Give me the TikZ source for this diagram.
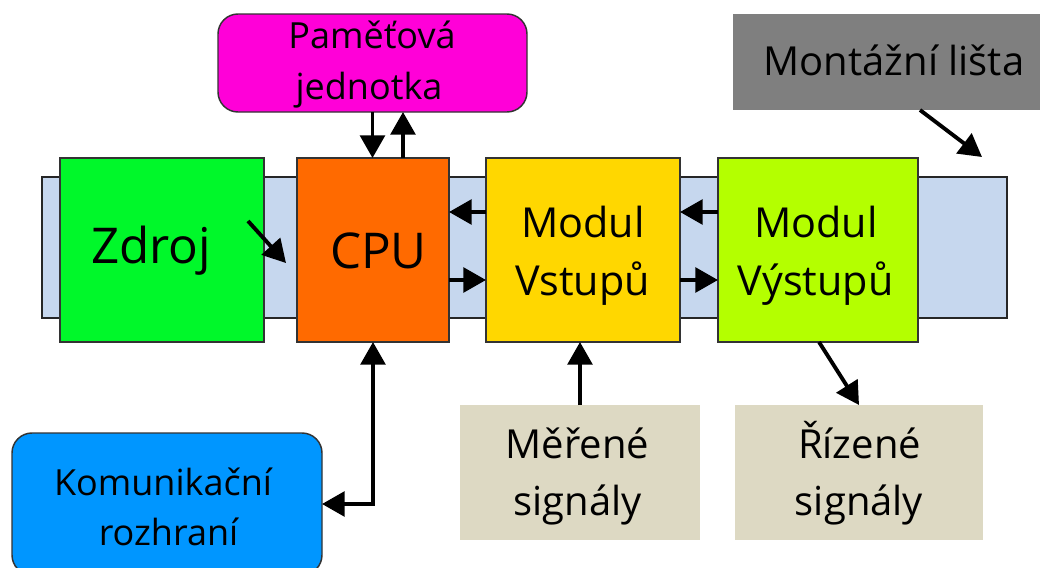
\documentclass[tikz,border=0pt]{standalone}
\usepackage{fontspec}
\setmainfont{Open Sans}
\usetikzlibrary{arrows.meta,calc}

\definecolor{railblue}{HTML}{C6D7EE}
\definecolor{railedge}{HTML}{262626}
\definecolor{edge}{HTML}{333333}
\definecolor{psu}{HTML}{00F82A}
\definecolor{cpucol}{HTML}{FF6A00}
\definecolor{inmod}{HTML}{FFD700}
\definecolor{outmod}{HTML}{B4FF00}
\definecolor{memcol}{HTML}{FF00D8}
\definecolor{railgray}{HTML}{7F7F7F}
\definecolor{commcol}{HTML}{0096FF}
\definecolor{sigcol}{HTML}{DDD9C3}

\begin{document}
\begin{tikzpicture}[x=0.75pt,y=-0.75pt,
  blk/.style={draw=edge,line width=1.1pt,inner sep=0pt,outer sep=0pt},
  rbox/.style={blk,rounded corners=15pt},
  plain/.style={inner sep=0pt,outer sep=0pt},
  txt/.style={anchor=base,inner sep=0pt,text=black},
  huge/.style={font=\fontsize{37}{44}\selectfont},
  big/.style={font=\fontsize{31}{37}\selectfont},
  mid/.style={font=\fontsize{30}{36}\selectfont},
  small/.style={font=\fontsize{27}{32}\selectfont},
  tip/.style={Triangle[length=17pt,width=18.5pt]},
  arr/.style={draw=black,line width=2.9pt,-{Triangle[length=17pt,width=18.5pt]}},
  darr/.style={draw=black,line width=2.9pt,{Triangle[length=17pt,width=18.5pt]}-{Triangle[length=17pt,width=18.5pt]}},
]
\useasboundingbox (0,0) rectangle (1054,568);
\clip (0,0) rectangle (1054,568);

% mounting rail
\node[blk, draw=railedge, line width=1.6pt, fill=railblue,
      minimum width=723.75pt, minimum height=105.75pt] (rail) at (524.5,247.5) {};

% modules on the rail
\node[blk, fill=psu,    minimum width=153pt,   minimum height=138pt] (zdroj) at (162,250) {};
\node[blk, fill=cpucol, minimum width=114pt,   minimum height=138pt] (cpu)   at (373,250) {};
\node[blk, fill=inmod,  minimum width=145.5pt, minimum height=138pt] (vin)   at (583,250) {};
\node[blk, fill=outmod, minimum width=150pt,   minimum height=138pt] (vout)  at (818,250) {};

% surrounding blocks
\node[rbox, fill=memcol,  minimum width=231.75pt, minimum height=73.5pt]  (mem)  at (372.5,63) {};
\node[plain, fill=railgray, minimum width=230.25pt, minimum height=72pt]  (mont) at (886.5,62) {};
\node[rbox, fill=commcol, minimum width=232.5pt,  minimum height=106.5pt] (kom)  at (167,504) {};
\node[plain, fill=sigcol, minimum width=180pt, minimum height=101.25pt]   (mer)  at (580,472.5) {};
\node[plain, fill=sigcol, minimum width=186pt, minimum height=101.25pt]   (riz)  at (859,472.5) {};

% labels
\node[txt, huge] (tz)  at (151,263)   {Zdroj};
\node[txt, huge] (tc)  at (378.5,268) {CPU};
\node[txt, big]  (tv1) at (583,237)   {Modul};
\node[txt, big]  (tv2) at (582.5,295) {Vstupů};
\node[txt, big]  (tw1) at (816,237)   {Modul};
\node[txt, big]  (tw2) at (815.5,295) {Výstupů};
\node[txt, small] (tm1) at (372,48)   {Paměťová};
\node[txt, small] (tm2) at (369,99)   {jednotka};
\node[txt, mid]  (tl)  at (894,75)    {Montážní lišta};
\node[txt, small] (tk1) at (163,495)  {Komunikační};
\node[txt, small] (tk2) at (168.5,545) {rozhraní};
\node[txt, mid]  (te1) at (577.5,458) {Měřené};
\node[txt, mid]  (te2) at (577.5,515) {signály};
\node[txt, mid]  (tr1) at (859.5,458) {Řízené};
\node[txt, mid]  (tr2) at (859,515)   {signály};

% free arrow ends
\coordinate (pwrA) at (248,221);
\coordinate (pwrB) at (286,263);
\coordinate (railtip) at (982,157);

% connectors
\draw[arr] (mem.south) -- (mem.south |- cpu.north);
\draw[arr] ($(cpu.north)+(30,0)$) -- ($(mem.south)+(30.5,0)$);
\draw[arr] ($(vin.west)+(0,-38)$) -- ($(cpu.east)+(0,-38)$);
\draw[arr] ($(cpu.east)+(0,30)$) -- ($(vin.west)+(0,30)$);
\draw[arr] ($(vout.west)+(0,-38)$) -- ($(vin.east)+(0,-38)$);
\draw[arr] ($(vin.east)+(0,30)$) -- ($(vout.west)+(0,30)$);
\draw[arr] (pwrA) -- (pwrB);
\draw[arr] ($(mont.south)+(33.5,0)$) -- (railtip);
\draw[arr] ($(vout.south)+(1,0)$) -- (riz.north);
\draw[arr] (mer.north) -- (mer.north |- vin.south);
\draw[darr] (cpu.south) |- (kom.east);
\end{tikzpicture}
\end{document}
